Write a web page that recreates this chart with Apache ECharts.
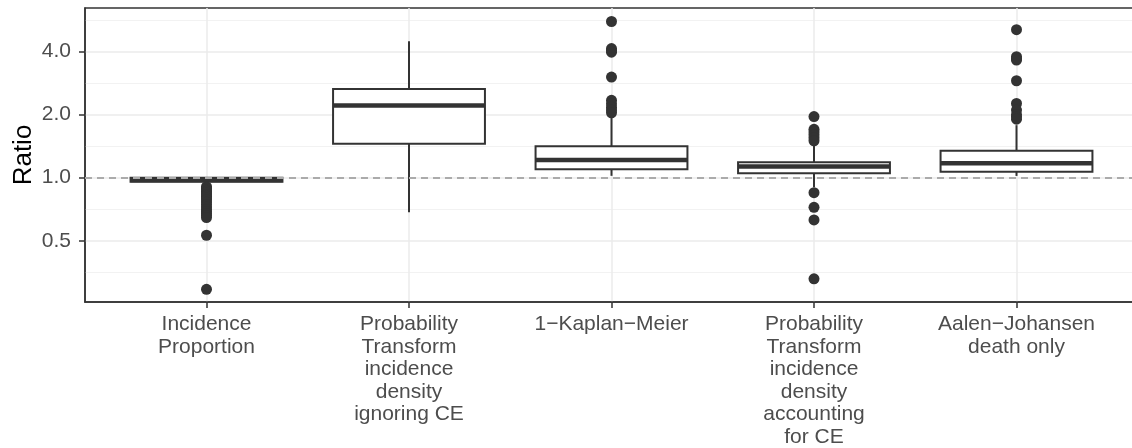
<!DOCTYPE html>
<html><head><meta charset="utf-8">
<script src="https://cdn.jsdelivr.net/npm/echarts@6/dist/echarts.min.js"></script>
<style>html,body{margin:0;padding:0;background:#fff}#c{width:1132px;height:448px}</style>
</head><body><div id="c"></div>
<script>
// ---- data ----
const categories = [
  "Incidence\nProportion",
  "Probability\nTransform\nincidence\ndensity\nignoring CE",
  "1\u2212Kaplan\u2212Meier",
  "Probability\nTransform\nincidence\ndensity\naccounting\nfor CE",
  "Aalen\u2212Johansen\ndeath only"
];
const whiskerLow  = [0.950, 0.683, 1.020, 0.900, 1.019];
const q1          = [0.955, 1.450, 1.097, 1.050, 1.068];
const medians     = [0.975, 2.210, 1.215, 1.130, 1.172];
const q3          = [1.000, 2.650, 1.410, 1.184, 1.342];
const whiskerHigh = [1.005, 4.470, 1.980, 1.450, 1.780];
const outliers = [
  [0.905, 0.89, 0.875, 0.86, 0.845, 0.83, 0.815, 0.80, 0.785, 0.765, 0.745, 0.725, 0.705, 0.69, 0.675, 0.66, 0.645, 0.531, 0.293],
  [],
  [5.56, 4.13, 4.05, 3.97, 3.02, 2.34, 2.25, 2.17, 2.10, 2.04],
  [1.956, 1.70, 1.65, 1.60, 1.55, 1.50, 0.848, 0.722, 0.628, 0.329],
  [5.08, 3.78, 3.70, 3.64, 2.90, 2.26, 2.10, 2.00, 1.95, 1.90]
];
const yTickValues = [0.5, 1, 2, 4];
const yTickLabels = ["0.5", "1.0", "2.0", "4.0"];
const yMinorBreaks = [0.35355, 0.70711, 1.41421, 2.82843, 5.65685];
const yLimits = [0.255, 6.45];
const refValue = 1;

// ---- build ----
const L = Math.log2;
const xIdx = categories.map((_, i) => i);
const boxData = categories.map((_, i) => [i, L(whiskerLow[i]), L(q1[i]), L(medians[i]), L(q3[i]), L(whiskerHigh[i])]);
const outData = [];
outliers.forEach((arr, i) => arr.forEach(v => outData.push([i, L(v)])));
const font = "'Liberation Sans', Arial, sans-serif";
const dark = '#333333';

const chart = echarts.init(document.getElementById('c'), null, {renderer: 'canvas'});
chart.setOption({
  animation: false,
  backgroundColor: '#ffffff',
  grid: {left: 85, top: 8, width: 1053, height: 294, show: true, borderColor: dark, borderWidth: 1.5,
    backgroundColor: 'transparent', containLabel: false, outerBoundsMode: 'none'},
  xAxis: {
    type: 'value', min: -0.6, max: 4.6,
    axisLine: {show: true, onZero: false, lineStyle: {color: dark, width: 1.5}},
    axisTick: {show: true, customValues: xIdx, length: 6, lineStyle: {color: dark, width: 1.5}},
    axisLabel: {customValues: xIdx, formatter: v => categories[Math.round(v)], color: '#4d4d4d',
      fontSize: 21, fontFamily: font, lineHeight: 22.6, margin: 11, verticalAlign: 'top', align: 'center'},
    splitLine: {show: true, lineStyle: {color: '#ebebeb', width: 1.5}}
  },
  yAxis: [{
    type: 'value', min: L(yLimits[0]), max: L(yLimits[1]),
    axisLine: {show: true, onZero: false, lineStyle: {color: dark, width: 1.5}},
    axisTick: {show: true, customValues: yTickValues.map(L), length: 6, lineStyle: {color: dark, width: 1.5}},
    axisLabel: {customValues: yTickValues.map(L), color: '#4d4d4d', fontSize: 21, fontFamily: font, margin: 14,
      formatter: v => { const i = yTickValues.findIndex(t => Math.abs(L(t) - v) < 1e-6); return i >= 0 ? yTickLabels[i] : ''; }},
    splitLine: {show: true, lineStyle: {color: '#ebebeb', width: 1.5}},
    name: 'Ratio', nameLocation: 'middle', nameGap: 48, nameMoveOverlap: false,
    nameTextStyle: {color: '#000', fontSize: 26, fontFamily: font}
  }, {
    type: 'value', min: L(yLimits[0]), max: L(yLimits[1]), position: 'left',
    axisLine: {show: false, onZero: false},
    axisTick: {show: false, customValues: yMinorBreaks.map(L)},
    axisLabel: {show: false, customValues: yMinorBreaks.map(L)},
    splitLine: {show: true, lineStyle: {color: '#f2f2f2', width: 1}}
  }],
  series: [{
    type: 'custom', z: 2,
    encode: {x: 0, y: [1, 2, 3, 4, 5]},
    data: boxData,
    renderItem: (params, api) => {
      const x = api.value(0);
      const lo = api.coord([x, api.value(1)]);
      const b1 = api.coord([x, api.value(2)]);
      const md = api.coord([x, api.value(3)]);
      const b3 = api.coord([x, api.value(4)]);
      const hi = api.coord([x, api.value(5)]);
      const half = api.size([1, 0])[0] * 0.75 / 2;
      return {type: 'group', children: [
        {type: 'line', shape: {x1: lo[0], y1: lo[1], x2: b1[0], y2: b1[1]}, style: {stroke: dark, lineWidth: 2}},
        {type: 'line', shape: {x1: b3[0], y1: b3[1], x2: hi[0], y2: hi[1]}, style: {stroke: dark, lineWidth: 2}},
        {type: 'rect', shape: {x: b1[0] - half, y: b3[1], width: half * 2, height: b1[1] - b3[1]}, style: {fill: '#ffffff', stroke: dark, lineWidth: 2}},
        {type: 'line', shape: {x1: md[0] - half, y1: md[1], x2: md[0] + half, y2: md[1]}, style: {stroke: dark, lineWidth: 4.5}}
      ]};
    }
  }, {
    type: 'scatter', z: 3,
    data: outData,
    symbol: 'circle', symbolSize: 11,
    itemStyle: {color: dark, opacity: 1},
    markLine: {
      silent: true, symbol: 'none', z: 4,
      label: {show: false},
      lineStyle: {color: '#ababab', type: [7, 5], width: 2},
      data: [{yAxis: L(refValue)}]
    }
  }]
});
</script>
</body></html>
